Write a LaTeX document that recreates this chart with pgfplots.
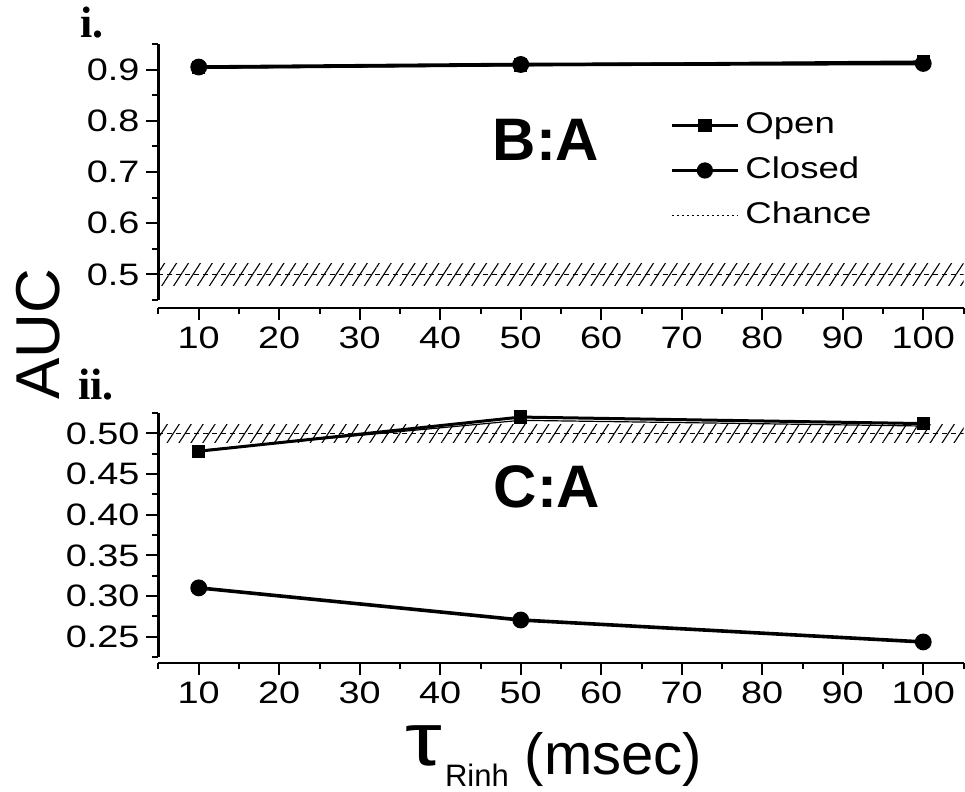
\documentclass[border=0pt]{standalone}
\usepackage{fontspec}
\setmainfont{Liberation Sans}
\newfontfamily\tickfont{Liberation Sans}[FakeStretch=1.22]
\newfontfamily\lserif{Liberation Serif}
\usepackage{graphicx}
\usepackage{pgfplots}
\pgfplotsset{compat=1.18}
\usetikzlibrary{patterns.meta}

\pgfplotsset{
  panel/.style={
    scale only axis, width=402.5pt,
    xmin=5, xmax=105,
    xtick={10,20,...,100},
    minor xtick={5,15,25,35,45,55,65,75,85,95,105},
    axis x line=bottom, axis y line=left,
    x axis line style={-, line width=1.2pt},
    y axis line style={-, line width=1.2pt},
    tick align=outside,
    major tick length=6pt, minor tick length=3pt,
    every tick/.style={line width=1pt, black},
    ticklabel style={font=\tickfont\fontsize{15.5}{15.5}\selectfont},
    /pgf/number format/assume math mode=true,
  },
  mleg/.style={legend image code/.code={\draw[mark repeat=2,mark phase=2,##1, line width=1.5pt]
    plot coordinates {(0pt,0pt) (16.5pt,0pt) (33pt,0pt)};}},
  openp/.style={black, line width=1.5pt, mark=square*, mark size=2.6pt,
    mark options={solid}, mleg},
  closedp/.style={black, line width=1.8pt, mark=*, mark size=3.3pt,
    mark options={solid}, mleg},
  hatch/.style={draw=none, forget plot,
    pattern={Lines[angle=57, distance=5pt, line width=0.55pt]}},
  chance/.style={black, line width=0.6pt, dash pattern=on 2.5pt off 2pt},
  chanceleg/.style={legend image code/.code={\draw[black, line width=0.6pt, dash pattern=on 1pt off 1.5pt]
    (0pt,0pt) -- (33pt,0pt);}},
}

\begin{document}
\begin{tikzpicture}
\path[use as bounding box] (0,0) rectangle (482.5pt,-396pt);

% ---------- panel i ----------
\begin{axis}[panel,
  at={(79.25pt,-150pt)}, anchor=south west,
  height=128pt,
  ymin=0.45, ymax=0.95,
  ytick={0.5,0.6,0.7,0.8,0.9},
  minor ytick={0.45,0.55,0.65,0.75,0.85,0.95},
  yticklabel style={/pgf/number format/fixed, /pgf/number format/precision=1},
  axis x line shift=4pt,
  legend style={at={(0.6354,0.738)}, anchor=north west, draw=none, fill=none,
    inner sep=0pt, row sep=8.5pt, column sep=3pt,
    font=\tickfont\fontsize{15}{15}\selectfont,
    nodes={inner sep=0pt, text height=11pt, text depth=3pt}},
  legend cell align=left,
]
\addplot[hatch] coordinates {(5,0.478) (105,0.478) (105,0.522) (5,0.522)};
\addplot[openp] coordinates {(10,0.904) (50,0.909) (100,0.915)};
\addlegendentry{Open}
\addplot[closedp] coordinates {(10,0.905) (50,0.910) (100,0.912)};
\addlegendentry{Closed}
\addplot[chance, chanceleg] coordinates {(5,0.5) (105,0.5)};
\addlegendentry{Chance}
\end{axis}

% ---------- panel ii ----------
\begin{axis}[panel,
  at={(79.25pt,-328.5pt)}, anchor=south west,
  height=122pt,
  ymin=0.225, ymax=0.525,
  ytick={0.25,0.30,0.35,0.40,0.45,0.50},
  minor ytick={0.225,0.275,0.325,0.375,0.425,0.475,0.525},
  yticklabel style={/pgf/number format/fixed, /pgf/number format/fixed zerofill,
    /pgf/number format/precision=2},
  axis x line shift=3pt,
]
\addplot[hatch] coordinates {(5,0.489) (105,0.489) (105,0.511) (5,0.511)};
\addplot[chance] coordinates {(5,0.5) (105,0.5)};
\addplot[black, line width=0.6pt] coordinates {(10,0.479) (50,0.516) (100,0.509)};
\addplot[openp] coordinates {(10,0.478) (50,0.520) (100,0.512)};
\addplot[closedp] coordinates {(10,0.310) (50,0.2705) (100,0.2435)};
\end{axis}

% ---------- labels ----------
\node[rotate=90, inner sep=0pt, font=\fontsize{31}{31}\selectfont]
  at (19.25pt,-167.25pt) {AUC};
\node[inner sep=0pt, font=\bfseries\fontsize{30}{30}\selectfont]
  at (273pt,-70pt) {B:A};
\node[inner sep=0pt, font=\bfseries\fontsize{30}{30}\selectfont]
  at (273.5pt,-243.5pt) {C:A};
\node[anchor=base west, inner sep=0pt, font=\lserif\bfseries\fontsize{22}{22}\selectfont]
  at (40pt,-19pt) {i.};
\node[anchor=base west, inner sep=0pt, font=\lserif\bfseries\fontsize{22}{22}\selectfont]
  at (39pt,-199.5pt) {ii.};
\node[anchor=base west, inner sep=0pt, font=\fontsize{29}{29}\selectfont]
  at (202.5pt,-387pt)
  {\raisebox{4.5pt}{\scalebox{1.6}[1.3]{τ}}\kern1.5pt\raisebox{-6pt}{\fontsize{15.5}{15.5}\selectfont Rinh}\hspace{8pt}(msec)};
\end{tikzpicture}
\end{document}
